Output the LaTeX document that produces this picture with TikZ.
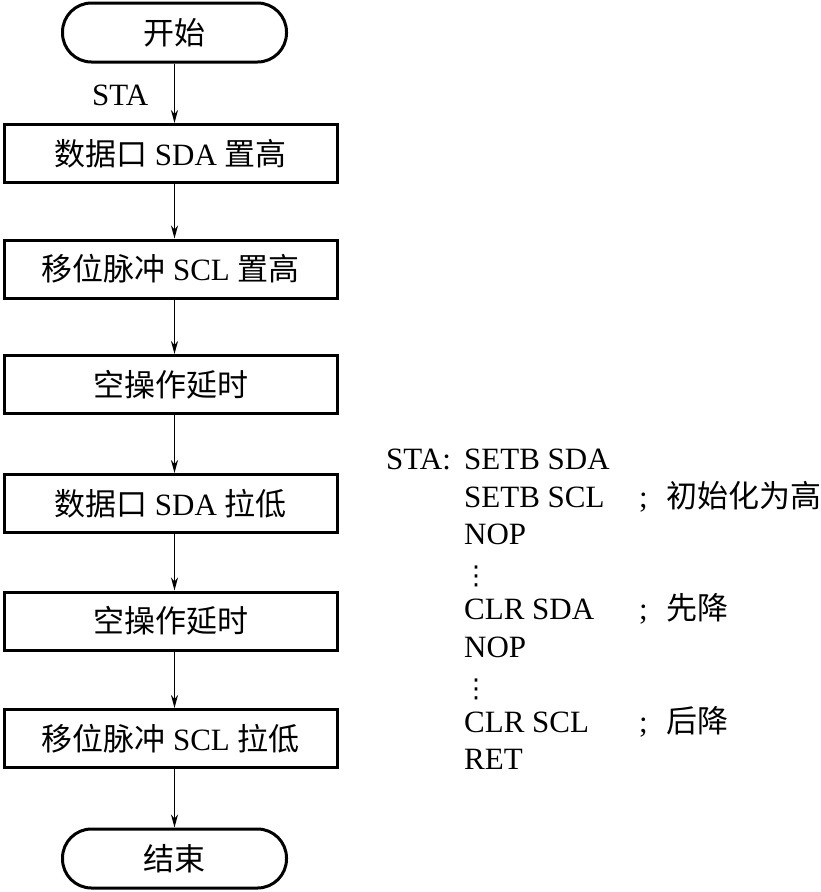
\documentclass[tikz,border=0pt]{standalone}
\usepackage{fontspec}
\setmainfont{Liberation Serif}
\newfontfamily\cjk{Noto Sans CJK SC}
\newfontfamily\dejavu{DejaVu Sans}
\usetikzlibrary{arrows.meta,calc}
\begin{document}
\begin{tikzpicture}[x=1pt,y=-1pt,
  font=\fontsize{31}{36}\selectfont,
  term/.style={draw,line width=3pt,rounded corners=29pt,minimum width=224pt,minimum height=59pt,inner sep=0pt},
  procbox/.style={draw,line width=3pt,minimum width=333pt,minimum height=58pt,inner sep=0pt},
  arr/.style={line width=1.4pt,-{Stealth[length=13pt,width=7pt,inset=4pt]}},
  code/.style={anchor=base west,inner sep=0pt},
  dotsty/.style={anchor=base,inner sep=0pt,font=\dejavu\fontsize{26}{30}\selectfont}]
\useasboundingbox[fill=white] (0,0) rectangle (821,892);
\coordinate (ax) at (174.5,0);
% flowchart
\node[term] (s) at (174.5,32.5) {{\cjk 开始}};
\node[procbox] (b1) at (170.5,153.5) {{\cjk 数据口} SDA {\cjk 置高}};
\node[procbox] (b2) at (170.5,269) {{\cjk 移位脉冲} SCL {\cjk 置高}};
\node[procbox] (b3) at (170.5,384.5) {{\cjk 空操作延时}};
\node[procbox] (b4) at (170.5,503.5) {{\cjk 数据口} SDA {\cjk 拉低}};
\node[procbox] (b5) at (170.5,621) {{\cjk 空操作延时}};
\node[procbox] (b6) at (170.5,738.5) {{\cjk 移位脉冲} SCL {\cjk 拉低}};
\node[term] (e) at (174.5,858.5) {{\cjk 结束}};
\node[code] (sta) at (92,105) {STA};
\draw[arr] (s.south) -- (b1.north -| ax);
\draw[arr] (b1.south -| ax) -- (b2.north -| ax);
\draw[arr] (b2.south -| ax) -- (b3.north -| ax);
\draw[arr] (b3.south -| ax) -- (b4.north -| ax);
\draw[arr] (b4.south -| ax) -- (b5.north -| ax);
\draw[arr] (b5.south -| ax) -- (b6.north -| ax);
\draw[arr] (b6.south -| ax) -- (e.north);
% code listing
\node[code] (l0) at (386,469) {STA:};
\node[code] (l1) at (464,469) {SETB SDA};
\node[code] (l2) at (464,507) {SETB SCL};
\node[code] (k2) at (639,507) {;};
\node[code] (m2) at (666,507) {{\cjk 初始化为高}};
\node[code] (l3) at (464,544) {NOP};
\node[dotsty] (d1) at (476,584) {⋮};
\node[code] (l4) at (464,619) {CLR SDA};
\node[code] (k4) at (639,619) {;};
\node[code] (m4) at (666,619) {{\cjk 先降}};
\node[code] (l5) at (464,657) {NOP};
\node[dotsty] (d2) at (476,697) {⋮};
\node[code] (l6) at (464,732) {CLR SCL};
\node[code] (k6) at (639,732) {;};
\node[code] (m6) at (666,732) {{\cjk 后降}};
\node[code] (l7) at (464,769) {RET};
\end{tikzpicture}
\end{document}
